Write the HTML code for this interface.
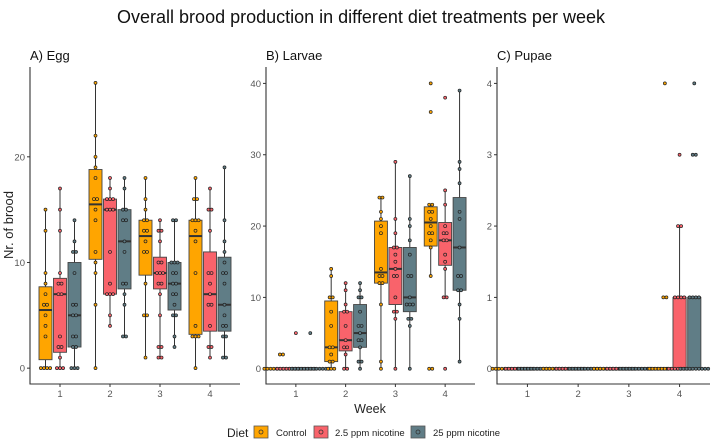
<!DOCTYPE html>
<html><head><meta charset="utf-8">
<style>
body{margin:0;background:#fff;}
svg{display:block;font-family:"Liberation Sans",sans-serif;}
</style></head>
<body>
<svg id="chart" width="711" height="441">
<text x="361" y="23" font-size="18" text-anchor="middle" fill="#111">Overall brood production in different diet treatments per week</text>
<text x="13" y="225" font-size="13" text-anchor="middle" fill="#222" transform="rotate(-90 13 225)">Nr. of brood</text>
<text x="370" y="413" font-size="12.5" text-anchor="middle" fill="#222">Week</text>
<g>
<text x="227" y="437" font-size="12" fill="#222">Diet</text>
<g><rect x="254" y="426" width="14" height="12" fill="#FFA500" stroke="#555" stroke-width="0.8"/><circle cx="261" cy="432" r="2" fill="none" stroke="#333" stroke-width="0.8"/><text x="276" y="436" font-size="9.5" fill="#222">Control</text></g>
<g><rect x="314" y="426" width="14" height="12" fill="#F9636B" stroke="#555" stroke-width="0.8"/><circle cx="321" cy="432" r="2" fill="none" stroke="#333" stroke-width="0.8"/><text x="335" y="436" font-size="9.5" fill="#222">2.5 ppm nicotine</text></g>
<g><rect x="411" y="426" width="14" height="12" fill="#607D86" stroke="#555" stroke-width="0.8"/><circle cx="418" cy="432" r="2" fill="none" stroke="#333" stroke-width="0.8"/><text x="433" y="436" font-size="9.5" fill="#222">25 ppm nicotine</text></g>
</g>
</svg>
<script>
const weeks=[1,2,3,4];
const diets=["Control","2.5 ppm nicotine","25 ppm nicotine"];
const colors=["#FFA500","#F9636B","#607D86"];
// stats: [lo, q1, median, q3, hi], ordered week-major, diet-minor
const eggStats=[[0,0.8,5.5,7.7,15],[0,1.5,7,8.5,17],[0,2,5,10,14],
[0,10.3,15.5,18.8,27],[4,7,15,16,18],[3,7.5,12,15,18],
[1,8.8,12.5,14,18],[1,7.5,9,10.5,14],[2,5.5,8,10,14],
[0,3.2,12.5,14,18],[1,3.5,7,11,17],[1,3.5,6,10.5,19]];
const eggPoints=[[0,0,0,0,3,4,5,6,6,7,8,9,13,15],[0,0,0,1,2,2,3,7,7,8,8,9,13,15,17],[0,0,0,2,2,3,3,5,5,6,6,9,11,11,12,14],
[0,6,9,10,11,14,15,16,16,18,19,20,22,27],[4,5,7,7,7,8,11,15,15,15,16,16,16,17,18],[3,3,6,7,8,8,11,12,14,14,15,15,17,18],
[1,5,5,8,11,11,12,13,13,14,14,15,16,18],[1,1,2,2,5,7,8,8,9,9,9,10,10,12,13,13,14],[2,3,5,5,6,7,7,8,8,9,9,10,10,10,14,14],
[0,3,3,3,4,9,12,13,14,14,14,16,16,18],[1,2,2,4,6,6,7,8,9,9,13,15,15,17],[1,1,3,3,4,4,5,6,8,9,9,10,11,12,14,19]];
const larvaeStats=[[0,0,0,0,0],[0,0,0,0,0],[0,0,0,0,0],
[0,1,3,9.5,14],[0,2.5,4,8,12],[0,3,5,9,12],
[0,12,13.5,20.7,24],[0,9,14,17,29],[0,8,10,17,27],
[13,17.2,20.5,22.7,23],[10,14.5,18,20.5,25],[1,11,17,24,39]];
const larvaePoints=[[0,0,0,0,0,0,0,0,0,0,0,0,2,2],[0,0,0,0,0,0,0,0,0,0,0,0,0,5],[0,0,0,0,0,0,0,0,0,0,0,0,0,5],
[0,0,0,1,1,2,3,3,6,8,10,10,13,14],[0,0,2,3,3,4,6,8,8,9,11,12],[0,1,1,3,4,4,5,6,6,8,10,10,11,12],
[0,1,9,12,12,13,13,14,19,20,21,22,24,24],[0,7,8,8,10,13,13,14,15,16,17,17,19,21,29],[0,6,7,7,9,9,9,10,13,13,16,18,20,21,27],
[0,0,13,17,18,19,19,20,21,22,22,23,23,36,40],[0,10,10,14,15,16,18,18,19,19,20,23,25,38],[1,7,9,11,11,13,13,17,21,22,26,28,29,39]];
const pupaeStats=[[0,0,0,0,0],[0,0,0,0,0],[0,0,0,0,0],
[0,0,0,0,0],[0,0,0,0,0],[0,0,0,0,0],
[0,0,0,0,0],[0,0,0,0,0],[0,0,0,0,0],
[0,0,0,0,0],[0,0,1,1,2],[0,0,1,1,1]];
const pupaePoints=[[0,0,0,0,0,0,0,0,0,0,0,0,0,0],[0,0,0,0,0,0,0,0,0,0,0,0,0,0,0],[0,0,0,0,0,0,0,0,0,0,0,0,0,0,0,0],
[0,0,0,0,0,0,0,0,0,0,0,0,0,0],[0,0,0,0,0,0,0,0,0,0,0,0,0,0,0],[0,0,0,0,0,0,0,0,0,0,0,0,0,0,0,0],
[0,0,0,0,0,0,0,0,0,0,0,0,0,0],[0,0,0,0,0,0,0,0,0,0,0,0,0,0,0],[0,0,0,0,0,0,0,0,0,0,0,0,0,0,0,0],
[0,0,0,0,0,0,0,0,0,0,0,1,1,4],[0,0,0,0,0,0,0,0,1,1,1,1,2,2,3],[0,0,0,0,0,0,0,0,0,0,1,1,1,1,3,3,4]];
const eggTicks=[0,10,20];
const larvaeTicks=[0,10,20,30,40];
const pupaeTicks=[0,1,2,3,4];

const NS="http://www.w3.org/2000/svg";
const svg=document.getElementById('chart');
function mk(tag,attrs,parent){const e=document.createElementNS(NS,tag);for(const k in attrs)e.setAttribute(k,attrs[k]);(parent||svg).appendChild(e);return e;}

const panels=[
 {name:"egg",label:"A) Egg",x0:30,x1:240,vmin:-1.5,vmax:28.5,stats:eggStats,pts:eggPoints,ticks:eggTicks},
 {name:"larvae",label:"B) Larvae",x0:266,x1:475,vmin:-2.14,vmax:42.3,stats:larvaeStats,pts:larvaePoints,ticks:larvaeTicks},
 {name:"pupae",label:"C) Pupae",x0:497,x1:710,vmin:-0.214,vmax:4.23,stats:pupaeStats,pts:pupaePoints,ticks:pupaeTicks}
];
const yTop=67,yBot=384;
panels.forEach(p=>{
 const g=mk('g',{});
 
 
 const yS=v=>yBot-(v-p.vmin)/(p.vmax-p.vmin)*(yBot-yTop);
 const xS=u=>p.x0+(u-0.4)/4.2*(p.x1-p.x0);
 const t=mk('text',{x:p.x0,y:60,'font-size':13,fill:'#111'},g);t.textContent=p.label;
 
 
 const ax=mk('path',{d:`M${p.x0},${yTop}V${yBot}H${p.x1}`,stroke:'#333',fill:'none','stroke-width':1.1},g);
 
 
 p.ticks.forEach(v=>{
  mk('line',{x1:p.x0-3,x2:p.x0,y1:yS(v),y2:yS(v),stroke:'#333'},g);
  const tl=mk('text',{x:p.x0-5,y:yS(v)+3.5,'font-size':9.5,'text-anchor':'end',fill:'#555'},g);tl.textContent=v;
  
  
 });
 weeks.forEach(w=>{
  mk('line',{x1:xS(w),x2:xS(w),y1:yBot,y2:yBot+3,stroke:'#333'},g);
  const tl=mk('text',{x:xS(w),y:yBot+13,'font-size':9.5,'text-anchor':'middle',fill:'#555'},g);tl.textContent=w;
  
  
 });
 weeks.forEach((w,wi)=>{
  diets.forEach((d,di)=>{
   const idx=wi*3+di;const s=p.stats[idx];
   const cx=xS(w+(di-1)*0.29);const hw=(xS(0.13)-xS(0));
   const bg=mk('g',{},g);
   
   
   mk('line',{x1:cx,x2:cx,y1:yS(s[0]),y2:yS(s[4]),stroke:'#333','stroke-width':1},bg);
   mk('rect',{x:cx-hw,y:yS(s[3]),width:2*hw,height:Math.max(0,yS(s[1])-yS(s[3])),fill:colors[di],stroke:'#444','stroke-width':0.9},bg);
   mk('line',{x1:cx-hw,x2:cx+hw,y1:yS(s[2]),y2:yS(s[2]),stroke:'#333','stroke-width':2},bg);
   const cnt={};p.pts[idx].forEach(v=>cnt[v]=(cnt[v]||0)+1);
   const seen={};
   p.pts[idx].forEach(v=>{
    const n=cnt[v];const k=seen[v]=(seen[v]||0)+1;
    const px=cx+(k-1-(n-1)/2)*3.1;
    const c=mk('circle',{cx:px,cy:yS(v),r:1.5,fill:colors[di],stroke:'#222','stroke-width':0.7},bg);
    
    
   });
  });
 });
});
</script>
</body></html>
